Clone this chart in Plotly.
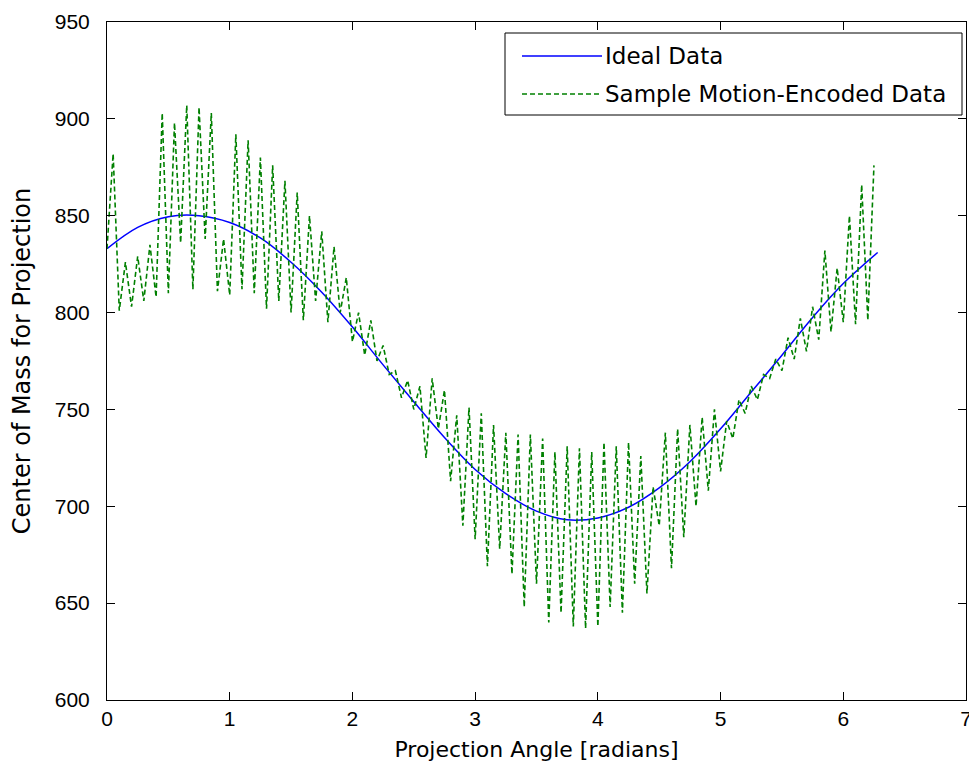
import plotly.graph_objects as go

# ideal curve, read every 0.25 rad
ideal_x = [0.0, 0.25, 0.5, 0.75, 1.0, 1.25, 1.5, 1.75, 2.0, 2.25, 2.5, 2.75, 3.0,
           3.25, 3.5, 3.75, 4.0, 4.25, 4.5, 4.75, 5.0, 5.25, 5.5, 5.75, 6.0, 6.28]
ideal_y = [833, 844, 849.5, 850, 846.5, 838.5, 826, 810.5, 792.5, 773, 754, 735.5, 719,
           706.5, 697.5, 693, 694, 699.5, 709.5, 723, 740, 759, 778, 797.5, 815, 831]

# motion-encoded samples, read every 0.05 rad
sample_x = [round(i * 0.05, 2) for i in range(126)]
sample_y = [
    833, 882, 801, 826, 803, 829, 806, 835, 808, 903,
    810, 898, 836, 907, 812, 906, 838, 903, 811, 838,
    809, 892, 812, 889, 810, 880, 802, 876, 806, 868,
    800, 862, 796, 850, 806, 842, 795, 834, 800, 818,
    785, 800, 778, 796, 775, 783, 768, 770, 756, 765,
    750, 762, 725, 766, 740, 760, 713, 747, 690, 751,
    683, 748, 669, 742, 678, 738, 665, 737, 648, 737,
    660, 735, 640, 728, 645, 731, 638, 730, 637, 728,
    638, 733, 648, 731, 645, 733, 660, 726, 655, 710,
    690, 738, 668, 740, 684, 742, 700, 746, 708, 750,
    718, 744, 735, 755, 748, 762, 755, 768, 766, 776,
    770, 787, 776, 797, 780, 803, 786, 832, 790, 823,
    795, 850, 794, 866, 796, 876,
]

x_ticks = [0, 1, 2, 3, 4, 5, 6, 7]
y_ticks = [600, 650, 700, 750, 800, 850, 900, 950]

legend_names = ["Ideal Data", "Sample Motion-Encoded Data"]

tick_font = "Liberation Sans, Arial, sans-serif"
text_font = "DejaVu Sans, sans-serif"
blue = "rgb(0,0,255)"
green = "rgb(0,128,0)"

fig = go.Figure()
fig.add_trace(go.Scatter(x=ideal_x, y=ideal_y, mode="lines", name=legend_names[0],
                         line=dict(color=blue, width=1.5, shape="spline")))
fig.add_trace(go.Scatter(x=sample_x, y=sample_y, mode="lines", name=legend_names[1],
                         line=dict(color=green, width=1.6, dash="5px,3px")))

axis_style = dict(showline=True, linecolor="black", linewidth=1, mirror="ticks",
                  ticks="inside", ticklen=8, tickcolor="black", showgrid=False,
                  zeroline=False, automargin=False,
                  tickfont=dict(family=tick_font, size=21, color="black"))

fig.update_xaxes(range=[0, 7], tickvals=x_ticks, ticktext=[str(v) for v in x_ticks],
                 title=dict(text="Projection Angle [radians]",
                            font=dict(family=text_font, size=22), standoff=12),
                 **axis_style)
fig.update_yaxes(range=[600, 950], tickvals=y_ticks, ticktext=[str(v) for v in y_ticks],
                 ticklabelstandoff=12,
                 title=dict(text="Center of Mass for Projection",
                            font=dict(family=text_font, size=24), standoff=17),
                 **axis_style)

# the page body has an 8px margin, so the figure is laid out 8px smaller/shifted
# plot area in figure pixels: 99..958 x 14..692
W, H = 969, 766
X0, X1, Y0, Y1 = 99, 958, 14, 692
def px(x):
    return (x - 8 - X0) / (X1 - X0)
def py(y):
    return (Y1 - (y - 8)) / (Y1 - Y0)

# hand-drawn legend box, MATLAB style (page pixels)
lx0, lx1, ly0, ly1 = 505, 962, 33, 115
fig.add_shape(type="rect", xref="paper", yref="paper", x0=px(lx0), x1=px(lx1),
              y0=py(ly1), y1=py(ly0), line=dict(color="black", width=1), fillcolor="white",
              layer="above")
legend_styles = [dict(color=blue, width=1.5), dict(color=green, width=1.6, dash="5px,3px")]
for k, name in enumerate(legend_names):
    yy = 56 + k * 38
    fig.add_shape(type="line", xref="paper", yref="paper", x0=px(522), x1=px(602),
                  y0=py(yy), y1=py(yy), line=legend_styles[k], layer="above")
    fig.add_annotation(xref="paper", yref="paper", x=px(603), y=py(yy), text=name,
                       showarrow=False, xanchor="left", yanchor="middle",
                       font=dict(family=text_font, size=23, color="black"))

fig.update_layout(width=W, height=H, showlegend=False,
                  margin=dict(l=X0, r=W - X1, t=Y0, b=H - Y1),
                  paper_bgcolor="white", plot_bgcolor="white",
                  font=dict(family=text_font, color="black"))
fig.write_html("out.html")
